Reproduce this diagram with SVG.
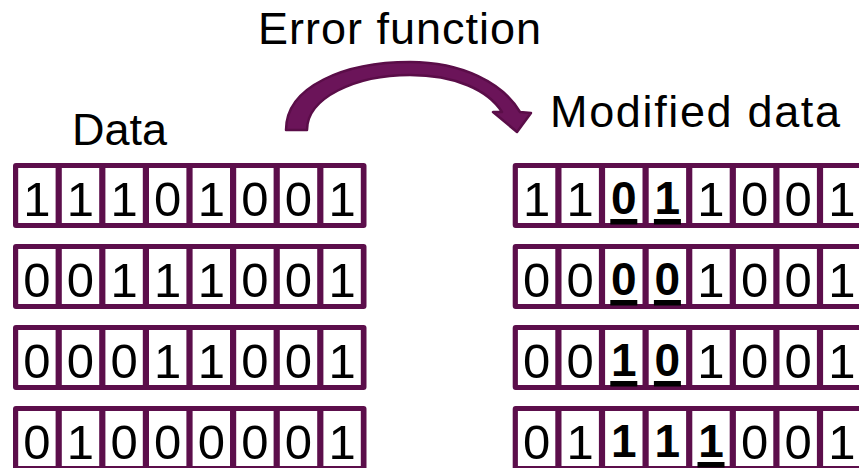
<svg xmlns="http://www.w3.org/2000/svg" width="859" height="468" viewBox="0 0 859 468">
<style>
.row{fill:#5C0E4B}
.cell{fill:#ffffff}
.d{font-family:"Liberation Sans",Arial,sans-serif;font-size:49px;fill:#000;text-anchor:middle}
.b{font-weight:bold;font-size:46px}
.ul{fill:#000}
.t{font-family:"Liberation Sans",Arial,sans-serif;font-size:45px;fill:#000}
</style>
<defs>
<g id="rowbg">
<rect class="row" x="0" y="0" width="353.5" height="65" rx="3"/>
<rect class="cell" x="5.2" y="5" width="37.4" height="55"/>
<rect class="cell" x="48.8" y="5" width="37.4" height="55"/>
<rect class="cell" x="92.4" y="5" width="37.4" height="55"/>
<rect class="cell" x="136" y="5" width="37.4" height="55"/>
<rect class="cell" x="179.6" y="5" width="37.4" height="55"/>
<rect class="cell" x="223.2" y="5" width="37.4" height="55"/>
<rect class="cell" x="266.8" y="5" width="37.4" height="55"/>
<rect class="cell" x="310.4" y="5" width="37.4" height="55"/>
</g>
</defs>
<rect width="859" height="468" fill="#fff"/>
<g id="title-error-function"><text class="t" x="258" y="43.5" textLength="283">Error function</text></g>
<g id="label-data"><text class="t" x="72" y="145">Data</text></g>
<g id="label-modified-data"><text class="t" x="550" y="126.7" textLength="290">Modified data</text></g>
<g id="connectors">
<path d="M 286,130 C 286,86 345,62 410,62 C 462,62 503,83 520,112 L 531,113 L 517,132 L 493,112 L 502,112 C 488,90 455,75 410,75 C 355,75 307,98 307,130 Z" fill="#6B1459" stroke="#5A0D48" stroke-width="2.5" stroke-linejoin="round"/>
</g>
<g id="data-row-1" transform="translate(13,163)">
<use href="#rowbg"/>
<text class="d" y="53"><tspan x="23.9">1</tspan><tspan x="67.5">1</tspan><tspan x="111.1">1</tspan><tspan x="154.7">0</tspan><tspan x="198.3">1</tspan><tspan x="241.9">0</tspan><tspan x="285.5">0</tspan><tspan x="329.1">1</tspan></text>
</g>
<g id="data-row-2" transform="translate(13,244)">
<use href="#rowbg"/>
<text class="d" y="53"><tspan x="23.9">0</tspan><tspan x="67.5">0</tspan><tspan x="111.1">1</tspan><tspan x="154.7">1</tspan><tspan x="198.3">1</tspan><tspan x="241.9">0</tspan><tspan x="285.5">0</tspan><tspan x="329.1">1</tspan></text>
</g>
<g id="data-row-3" transform="translate(13,325)">
<use href="#rowbg"/>
<text class="d" y="53"><tspan x="23.9">0</tspan><tspan x="67.5">0</tspan><tspan x="111.1">0</tspan><tspan x="154.7">1</tspan><tspan x="198.3">1</tspan><tspan x="241.9">0</tspan><tspan x="285.5">0</tspan><tspan x="329.1">1</tspan></text>
</g>
<g id="data-row-4" transform="translate(13,406)">
<use href="#rowbg"/>
<text class="d" y="53"><tspan x="23.9">0</tspan><tspan x="67.5">1</tspan><tspan x="111.1">0</tspan><tspan x="154.7">0</tspan><tspan x="198.3">0</tspan><tspan x="241.9">0</tspan><tspan x="285.5">0</tspan><tspan x="329.1">1</tspan></text>
</g>
<g id="modified-row-1" transform="translate(512.7,163)">
<use href="#rowbg"/>
<text class="d" y="53"><tspan x="23.9">1</tspan><tspan x="67.5">1</tspan><tspan x="198.3">1</tspan><tspan x="241.9">0</tspan><tspan x="285.5">0</tspan><tspan x="329.1">1</tspan></text>
<text class="d b" y="51"><tspan x="111.1">0</tspan><tspan x="154.7">1</tspan></text>
<rect class="ul" x="97.6" y="56" width="27" height="5.5"/>
<rect class="ul" x="141.2" y="56" width="27" height="5.5"/>
</g>
<g id="modified-row-2" transform="translate(512.7,244)">
<use href="#rowbg"/>
<text class="d" y="53"><tspan x="23.9">0</tspan><tspan x="67.5">0</tspan><tspan x="198.3">1</tspan><tspan x="241.9">0</tspan><tspan x="285.5">0</tspan><tspan x="329.1">1</tspan></text>
<text class="d b" y="51"><tspan x="111.1">0</tspan><tspan x="154.7">0</tspan></text>
<rect class="ul" x="97.6" y="56" width="27" height="5.5"/>
<rect class="ul" x="141.2" y="56" width="27" height="5.5"/>
</g>
<g id="modified-row-3" transform="translate(512.7,325)">
<use href="#rowbg"/>
<text class="d" y="53"><tspan x="23.9">0</tspan><tspan x="67.5">0</tspan><tspan x="198.3">1</tspan><tspan x="241.9">0</tspan><tspan x="285.5">0</tspan><tspan x="329.1">1</tspan></text>
<text class="d b" y="51"><tspan x="111.1">1</tspan><tspan x="154.7">0</tspan></text>
<rect class="ul" x="97.6" y="56" width="27" height="5.5"/>
<rect class="ul" x="141.2" y="56" width="27" height="5.5"/>
</g>
<g id="modified-row-4" transform="translate(512.7,406)">
<use href="#rowbg"/>
<text class="d" y="53"><tspan x="23.9">0</tspan><tspan x="67.5">1</tspan><tspan x="241.9">0</tspan><tspan x="285.5">0</tspan><tspan x="329.1">1</tspan></text>
<text class="d b" y="51"><tspan x="111.1">1</tspan><tspan x="154.7">1</tspan><tspan x="198.3">1</tspan></text>
<rect class="ul" x="184.8" y="56" width="27" height="5.5"/>
</g>
</svg>
